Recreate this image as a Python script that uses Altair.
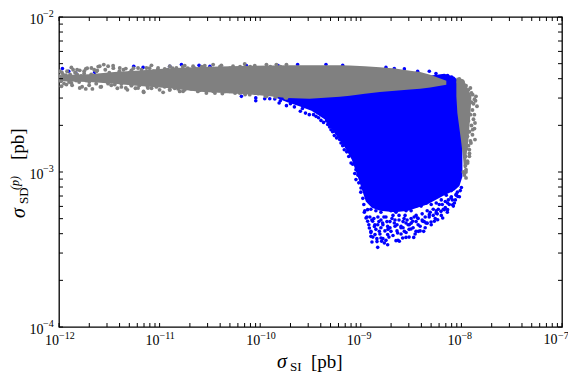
import altair as alt
import pandas as pd

# log10 values
BLUE_AREA_LX = [-9.85, -9.73, -9.61, -9.49, -9.36, -9.26, -9.16, -9.09, -9.03, -8.98, -8.95, -8.89, -8.81, -8.66, -8.53, -8.34, -8.17, -8.07, -8.02, -7.99]
BLUE_AREA_TOP = [-2.50, -2.50, -2.50, -2.48, -2.48, -2.46, -2.45, -2.43, -2.42, -2.42, -2.41, -2.41, -2.41, -2.40, -2.39, -2.38, -2.366, -2.385, -2.42, -2.50]
BLUE_AREA_BOT = [-2.52, -2.55, -2.575, -2.605, -2.66, -2.75, -2.84, -2.92, -3.03, -3.13, -3.19, -3.23, -3.25, -3.26, -3.25, -3.21, -3.15, -3.12, -3.09, -3.03]

BLUE_LX = [-8.832, -8.889, -8.839, -8.793, -8.733, -8.766, -8.899, -8.859, -8.799, -8.750, -8.650, -8.617, -8.584, -8.551, -8.474, -8.501, -8.451, -8.428, -8.375, -8.352, -8.302, -8.269, -8.236, -8.186, -8.170, -8.137, -8.087, -8.070, -8.037, -8.011, -8.915, -8.899, -8.932, -8.965, -8.932, -8.948, -8.865, -8.816, -8.733, -8.700, -8.634, -8.567, -8.518,
           -8.882, -8.832, -8.783, -8.733, -8.667, -8.600, -8.551, -8.484, -8.435, -8.385, -8.319, -8.252, -8.137, -8.104, -8.054, -8.203,
           -9.601, -9.512, -9.445, -9.396, -9.329, -9.296, -9.263, -9.197, -9.164, -9.097, -9.048, -9.048, -8.998,
           -10.187, -10.044, -10.044, -9.955, -9.905, -9.855, -9.812, -9.739,
           -9.628, -9.346, -9.18, -8.75, -8.667, -8.567, -8.435, -8.319, -8.253, -8.137, -8.097,
           -11.966, -11.903, -11.833, -11.645, -11.257, -11.164, -10.899, -10.783, -10.608, -10.5, -10.362, -10.137, -9.822]
BLUE_LY = [-3.486, -3.452, -3.449, -3.447, -3.469, -3.458, -3.415, -3.404, -3.426, -3.441, -3.443, -3.447, -3.426, -3.422, -3.422, -3.368, -3.383, -3.383, -3.383, -3.329, -3.323, -3.318, -3.308, -3.297, -3.243, -3.243, -3.211, -3.200, -3.157, -3.120, -3.361, -3.383, -3.318, -3.260, -3.243, -3.297, -3.351, -3.383, -3.404, -3.383, -3.394, -3.383, -3.340,
           -3.318, -3.340, -3.329, -3.351, -3.329, -3.351, -3.329, -3.318, -3.297, -3.318, -3.275, -3.265, -3.200, -3.168, -3.146, -3.254,
           -2.608, -2.630, -2.641, -2.667, -2.694, -2.727, -2.765, -2.813, -2.856, -2.942, -2.985, -3.049, -3.103,
           -2.512, -2.522, -2.540, -2.527, -2.527, -2.529, -2.555, -2.572,
           -2.307, -2.307, -2.312, -2.325, -2.333, -2.335, -2.350, -2.350, -2.365, -2.378, -2.387,
           -2.333, -2.350, -2.361, -2.357, -2.318, -2.325, -2.318, -2.307, -2.312, -2.318, -2.333, -2.314, -2.314]
BLUE_EXTRA = [(-9.00, -3.13), (-8.98, -3.17), (-8.97, -3.21), (-8.96, -3.25), (-8.94, -3.29), (-8.92, -3.34), (-8.90, -3.39), (-8.88, -3.42),
              (-8.87, -3.30), (-8.85, -3.37), (-8.84, -3.43), (-8.82, -3.32), (-8.81, -3.40), (-8.80, -3.36), (-8.78, -3.43), (-8.77, -3.29),
              (-8.76, -3.38), (-8.74, -3.32), (-8.72, -3.42), (-8.71, -3.36), (-8.69, -3.30), (-8.68, -3.41), (-8.66, -3.35), (-8.64, -3.38),
              (-8.63, -3.44), (-8.62, -3.31), (-8.60, -3.40), (-8.58, -3.36), (-8.57, -3.30), (-8.55, -3.39), (-8.53, -3.34), (-8.52, -3.42),
              (-8.50, -3.30), (-8.48, -3.36), (-8.46, -3.40), (-8.45, -3.28), (-8.43, -3.34), (-8.41, -3.38), (-8.39, -3.27), (-8.37, -3.32),
              (-8.36, -3.36), (-8.34, -3.25), (-8.32, -3.29), (-8.30, -3.34), (-8.28, -3.24), (-8.26, -3.30), (-8.24, -3.27), (-8.22, -3.21),
              (-8.20, -3.28), (-8.18, -3.24), (-8.16, -3.19), (-8.14, -3.26), (-8.12, -3.21), (-8.10, -3.16), (-8.08, -3.22), (-8.06, -3.18),
              (-8.04, -3.13), (-8.02, -3.16), (-8.00, -3.10), (-8.85, -3.25), (-8.75, -3.24), (-8.65, -3.26), (-8.55, -3.25), (-8.45, -3.22),
              (-8.35, -3.20), (-8.25, -3.20), (-8.15, -3.15), (-8.90, -3.24), (-8.80, -3.26), (-8.70, -3.25), (-8.60, -3.24), (-8.50, -3.25),
              (-8.40, -3.22), (-8.30, -3.21), (-8.20, -3.18), (-8.10, -3.12),
              (-8.91, -3.29), (-8.89, -3.31), (-8.86, -3.34), (-8.83, -3.29), (-8.80, -3.31), (-8.78, -3.34), (-8.75, -3.29), (-8.73, -3.37),
              (-8.71, -3.32), (-8.68, -3.28), (-8.66, -3.31), (-8.64, -3.34), (-8.62, -3.28), (-8.60, -3.36), (-8.58, -3.32), (-8.56, -3.28),
              (-8.54, -3.31), (-8.52, -3.37), (-8.50, -3.33), (-8.47, -3.29), (-8.45, -3.32), (-8.43, -3.30), (-8.41, -3.35), (-8.39, -3.31),
              (-8.36, -3.29), (-8.34, -3.33), (-8.31, -3.26), (-8.28, -3.28), (-8.25, -3.25), (-8.23, -3.24), (-8.19, -3.21), (-8.16, -3.23),
              (-8.13, -3.18), (-8.09, -3.18), (-8.05, -3.15),
              (-9.80, -2.54), (-9.70, -2.56), (-9.66, -2.58), (-9.58, -2.59), (-9.55, -2.62), (-9.47, -2.63), (-9.42, -2.65), (-9.37, -2.68),
              (-9.34, -2.67), (-9.31, -2.71), (-9.28, -2.74), (-9.24, -2.78), (-9.21, -2.79), (-9.18, -2.83), (-9.14, -2.87), (-9.12, -2.90),
              (-9.08, -2.95), (-9.06, -3.01), (-9.03, -3.02), (-9.02, -3.07)]

GRAY_AREA_LX = [-12.0, -11.7, -11.45, -11.2, -10.9, -10.6, -10.1, -9.73, -9.51, -9.21, -9.11, -8.96, -8.81, -8.66, -8.51, -8.41, -8.31, -8.15]
GRAY_AREA_TOP = [-2.375, -2.37, -2.355, -2.345, -2.33, -2.322, -2.315, -2.312, -2.311, -2.312, -2.313, -2.317, -2.324, -2.332, -2.346, -2.355, -2.372, -2.411]
GRAY_AREA_BOT = [-2.415, -2.42, -2.43, -2.445, -2.46, -2.482, -2.50, -2.522, -2.527, -2.514, -2.508, -2.495, -2.484, -2.476, -2.468, -2.463, -2.455, -2.437]

GRAY_V_LY = [-2.392, -2.404, -2.512, -2.619, -2.791, -2.899, -2.974]
GRAY_V_LEFT = [-8.05, -8.05, -8.05, -8.04, -8.005, -7.985, -7.975]
GRAY_V_RIGHT = [-8.03, -7.98, -7.90, -7.91, -7.93, -7.95, -7.955]

GRAY_LX = [-11.959, -11.877, -11.794, -11.734, -11.678, -11.628, -11.595, -11.555, -11.512, -11.462, -11.396, -11.336, -11.280, -11.214, -11.131, -11.081, -11.015, -10.949, -10.899, -10.833, -10.750, -10.667, -10.551, -10.468, -10.386, -10.270, -10.154, -10.054, -9.938, -9.839, -9.739,
           -11.976, -11.926, -11.877, -11.794, -11.734, -11.668, -11.588, -11.512, -11.446, -11.380, -11.336, -11.280, -11.214, -11.158, -11.115, -11.032, -10.965, -10.899, -10.816, -10.767, -10.684, -10.601, -10.535, -10.468, -10.376, -10.303, -10.203, -10.104, -10.021, -9.938, -9.839, -9.739,
           -8.021, -7.987, -7.954, -7.911, -7.888, -7.855, -7.845, -7.871, -7.865, -7.888, -7.865, -7.905, -7.921, -7.921, -7.938, -7.954, -7.954, -7.971,
           -11.99, -11.93, -11.86, -11.83, -11.75, -11.70, -11.62, -11.57, -11.98, -11.90, -11.82, -11.72]
GRAY_LY = [-2.372, -2.325, -2.344, -2.335, -2.329, -2.350, -2.318, -2.307, -2.318, -2.314, -2.329, -2.333, -2.344, -2.329, -2.329, -2.312, -2.329, -2.335, -2.318, -2.329, -2.314, -2.318, -2.314, -2.307, -2.312, -2.318, -2.303, -2.314, -2.307, -2.307, -2.307,
           -2.447, -2.436, -2.426, -2.458, -2.464, -2.464, -2.451, -2.430, -2.436, -2.451, -2.458, -2.443, -2.458, -2.486, -2.458, -2.451, -2.486, -2.469, -2.464, -2.479, -2.464, -2.473, -2.490, -2.479, -2.494, -2.479, -2.490, -2.501, -2.494, -2.512, -2.512, -2.522,
           -2.400, -2.415, -2.443, -2.458, -2.501, -2.512, -2.576, -2.630, -2.684, -2.727, -2.791, -2.813, -2.856, -2.899, -2.942, -2.985, -3.038, -3.006,
           -2.350, -2.375, -2.340, -2.410, -2.365, -2.420, -2.345, -2.400, -2.415, -2.395, -2.370, -2.390]
GRAY_EXTRA = [(-12.0, -2.38), (-11.98, -2.41), (-11.97, -2.36), (-11.95, -2.43), (-11.94, -2.39), (-11.92, -2.35), (-11.90, -2.42), (-11.89, -2.37),
              (-11.87, -2.44), (-11.85, -2.40), (-11.84, -2.36), (-11.82, -2.34), (-11.80, -2.42), (-11.78, -2.38), (-11.77, -2.45), (-11.75, -2.35),
              (-11.73, -2.41), (-11.72, -2.33), (-11.70, -2.44), (-11.68, -2.37), (-11.66, -2.40), (-11.65, -2.34), (-11.63, -2.43), (-11.61, -2.32),
              (-11.6, -2.38), (-11.58, -2.45), (-11.56, -2.41), (-11.54, -2.34), (-11.52, -2.42), (-11.5, -2.36), (-11.48, -2.44), (-11.46, -2.33),
              (-11.44, -2.39), (-11.42, -2.46), (-11.4, -2.35), (-11.38, -2.43), (-11.36, -2.34), (-11.34, -2.41), (-11.32, -2.47), (-11.3, -2.36),
              (-11.28, -2.44), (-11.26, -2.33), (-11.24, -2.46), (-11.22, -2.38), (-11.2, -2.44), (-11.18, -2.34), (-11.16, -2.48), (-11.14, -2.36),
              (-11.12, -2.45), (-11.1, -2.33), (-11.08, -2.46), (-11.06, -2.35), (-11.04, -2.44), (-11.02, -2.34), (-11.0, -2.47), (-10.97, -2.35),
              (-10.95, -2.45), (-10.92, -2.34), (-10.9, -2.47), (-10.87, -2.33), (-10.85, -2.46), (-10.82, -2.34), (-10.8, -2.48), (-10.77, -2.32),
              (-10.75, -2.47), (-10.72, -2.33), (-10.7, -2.46), (-10.65, -2.33), (-10.62, -2.48), (-10.58, -2.32), (-10.55, -2.47), (-10.5, -2.33),
              (-10.45, -2.49), (-10.4, -2.32), (-10.35, -2.48), (-10.3, -2.33), (-10.25, -2.49), (-10.2, -2.32), (-10.15, -2.50), (-10.1, -2.32),
              (-10.05, -2.49), (-10.0, -2.33), (-9.95, -2.51), (-9.9, -2.32), (-9.85, -2.515), (-9.8, -2.32), (-9.75, -2.52),
              (-8.03, -2.42), (-7.98, -2.43), (-7.96, -2.46), (-7.93, -2.47), (-7.90, -2.49), (-7.87, -2.53), (-7.95, -2.50), (-7.90, -2.55),
              (-7.88, -2.56), (-7.86, -2.54), (-7.93, -2.58), (-7.89, -2.60), (-7.91, -2.63), (-7.88, -2.66), (-7.93, -2.67), (-7.90, -2.70),
              (-7.87, -2.72), (-7.92, -2.74), (-7.89, -2.76), (-7.94, -2.77), (-7.91, -2.80), (-7.93, -2.83), (-7.95, -2.85), (-7.92, -2.88),
              (-7.96, -2.90), (-7.94, -2.93), (-7.96, -2.96), (-7.98, -3.0), (-7.97, -3.02), (-7.955, -3.0)]

X_TICK_EXPONENTS = [-12, -11, -10, -9, -8, -7]
Y_TICK_EXPONENTS = [-4, -3, -2]
MINOR_MULTIPLES = [1, 2, 3, 4, 5, 6, 7, 8, 9]

W, H = 503, 310
FONT = "Liberation Serif"


def p10(values):
    return [10.0 ** v for v in values]


blue_area = pd.DataFrame({"x": p10(BLUE_AREA_LX), "y": p10(BLUE_AREA_TOP), "y2": p10(BLUE_AREA_BOT)})
gray_area = pd.DataFrame({"x": p10(GRAY_AREA_LX), "y": p10(GRAY_AREA_TOP), "y2": p10(GRAY_AREA_BOT)})
gray_v = pd.DataFrame({"y": p10(GRAY_V_LY), "x": p10(GRAY_V_LEFT), "x2": p10(GRAY_V_RIGHT)})
blue_pts = pd.DataFrame({"x": p10(BLUE_LX + [p[0] for p in BLUE_EXTRA]), "y": p10(BLUE_LY + [p[1] for p in BLUE_EXTRA])})
gray_pts = pd.DataFrame({"x": p10(GRAY_LX + [p[0] for p in GRAY_EXTRA]), "y": p10(GRAY_LY + [p[1] for p in GRAY_EXTRA])})

xticks = [m * 10.0 ** e for e in X_TICK_EXPONENTS[:-1] for m in MINOR_MULTIPLES] + [1e-7]
yticks = [m * 10.0 ** e for e in Y_TICK_EXPONENTS[:-1] for m in MINOR_MULTIPLES] + [1e-2]
xt = pd.DataFrame({"x": xticks})
yt = pd.DataFrame({"y": yticks})

xscale = alt.Scale(type="log", domain=[1e-12, 1e-7], nice=False)
yscale = alt.Scale(type="log", domain=[1e-4, 1e-2], nice=False)
X = alt.X(
    "x:Q", scale=xscale, title=None,
    axis=alt.Axis(values=[10.0 ** e for e in X_TICK_EXPONENTS[:-1]], labelExpr="'10'", ticks=False, domain=False, grid=False,
                  labelFont=FONT, labelFontSize=14, labelColor="black", labelAlign="right", labelBaseline="alphabetic",
                  labelPadding=17, labelOffset=-0.5, labelFlush=False, labelOverlap=False, labelBound=False),
)
Y = alt.Y(
    "y:Q", scale=yscale, title=None,
    axis=alt.Axis(values=[10.0 ** e for e in Y_TICK_EXPONENTS], labelExpr="'10'", ticks=False, domain=False, grid=False,
                  labelFont=FONT, labelFontSize=14, labelColor="black", labelAlign="right", labelBaseline="alphabetic",
                  labelPadding=16, labelOffset=6, labelFlush=False, labelOverlap=False, labelBound=False),
)

layers = []
layers.append(alt.Chart(blue_area).mark_area(color="#0000ff", clip=True).encode(x=X, y=Y, y2="y2:Q"))
layers.append(alt.Chart(blue_pts).mark_circle(color="#0000ff", size=13, opacity=1, clip=True).encode(x=X, y=Y))
layers.append(alt.Chart(gray_area).mark_area(color="#808080", clip=True).encode(x=X, y=Y, y2="y2:Q"))
layers.append(alt.Chart(gray_v).mark_area(color="#808080", orient="horizontal", clip=True).encode(x=X, x2="x2:Q", y=Y))
layers.append(alt.Chart(gray_pts).mark_circle(color="#808080", size=15, opacity=1, clip=True).encode(x=X, y=Y))

# inward ticks on all four sides
layers.append(alt.Chart(xt).mark_tick(color="black", thickness=1, size=4, orient="vertical", opacity=1).encode(x=X, y=alt.value(H - 2)))
layers.append(alt.Chart(xt).mark_tick(color="black", thickness=1, size=4, orient="vertical", opacity=1).encode(x=X, y=alt.value(2)))
layers.append(alt.Chart(yt).mark_tick(color="black", thickness=1, size=4, orient="horizontal", opacity=1).encode(y=Y, x=alt.value(2)))
layers.append(alt.Chart(yt).mark_tick(color="black", thickness=1, size=4, orient="horizontal", opacity=1).encode(y=Y, x=alt.value(W - 2)))

# tick-label exponents
xexp = pd.DataFrame({"x": [10.0 ** e for e in X_TICK_EXPONENTS[:-1]], "t": ["\u2212" + str(-e) for e in X_TICK_EXPONENTS[:-1]]})
yexp = pd.DataFrame({"y": [10.0 ** e for e in Y_TICK_EXPONENTS], "t": ["\u2212" + str(-e) for e in Y_TICK_EXPONENTS]})
layers.append(
    alt.Chart(xexp).mark_text(font=FONT, fontSize=10, align="left", baseline="alphabetic", color="black")
    .encode(x=X, y=alt.value(H + 12), text="t:N")
)
layers.append(
    alt.Chart(yexp).mark_text(font=FONT, fontSize=10, align="left", baseline="alphabetic", color="black")
    .encode(y=Y, x=alt.value(-16), text="t:N")
)


def label(text, px, py, size, style="normal", angle=0, align="left"):
    return (
        alt.Chart(pd.DataFrame({"t": [text]}))
        .mark_text(font=FONT, fontSize=size, fontStyle=style, align=align, baseline="alphabetic", angle=angle, color="black")
        .encode(x=alt.value(px - 59), y=alt.value(py - 17), text="t:N")
    )


layers += [
    # last x tick label, held just inside the page width
    label("10", 557.5, 344, 14, align="right"),
    label("\u22127", 558, 339, 10),
    label("\u03c3", 277, 368, 20, "italic"),
    label("SI", 290, 371, 13),
    label("[pb]", 311, 368, 19),
    label("\u03c3", 25, 218, 20, "italic", 270),
    label("SD", 28, 204, 13, "normal", 270),
    label("(p)", 19, 190, 12, "italic", 270),
    label("[pb]", 24, 160, 19, "normal", 270),
]

chart = (
    alt.layer(*layers)
    .properties(
        width=W, height=H,
        autosize=alt.AutoSizeParams(type="none"),
        padding={"left": 51, "top": 9, "right": 6, "bottom": 48},
    )
    .configure_view(stroke="black", strokeWidth=1.3)
)

chart.save("out.html", embed_options={"renderer": "svg", "actions": False})
